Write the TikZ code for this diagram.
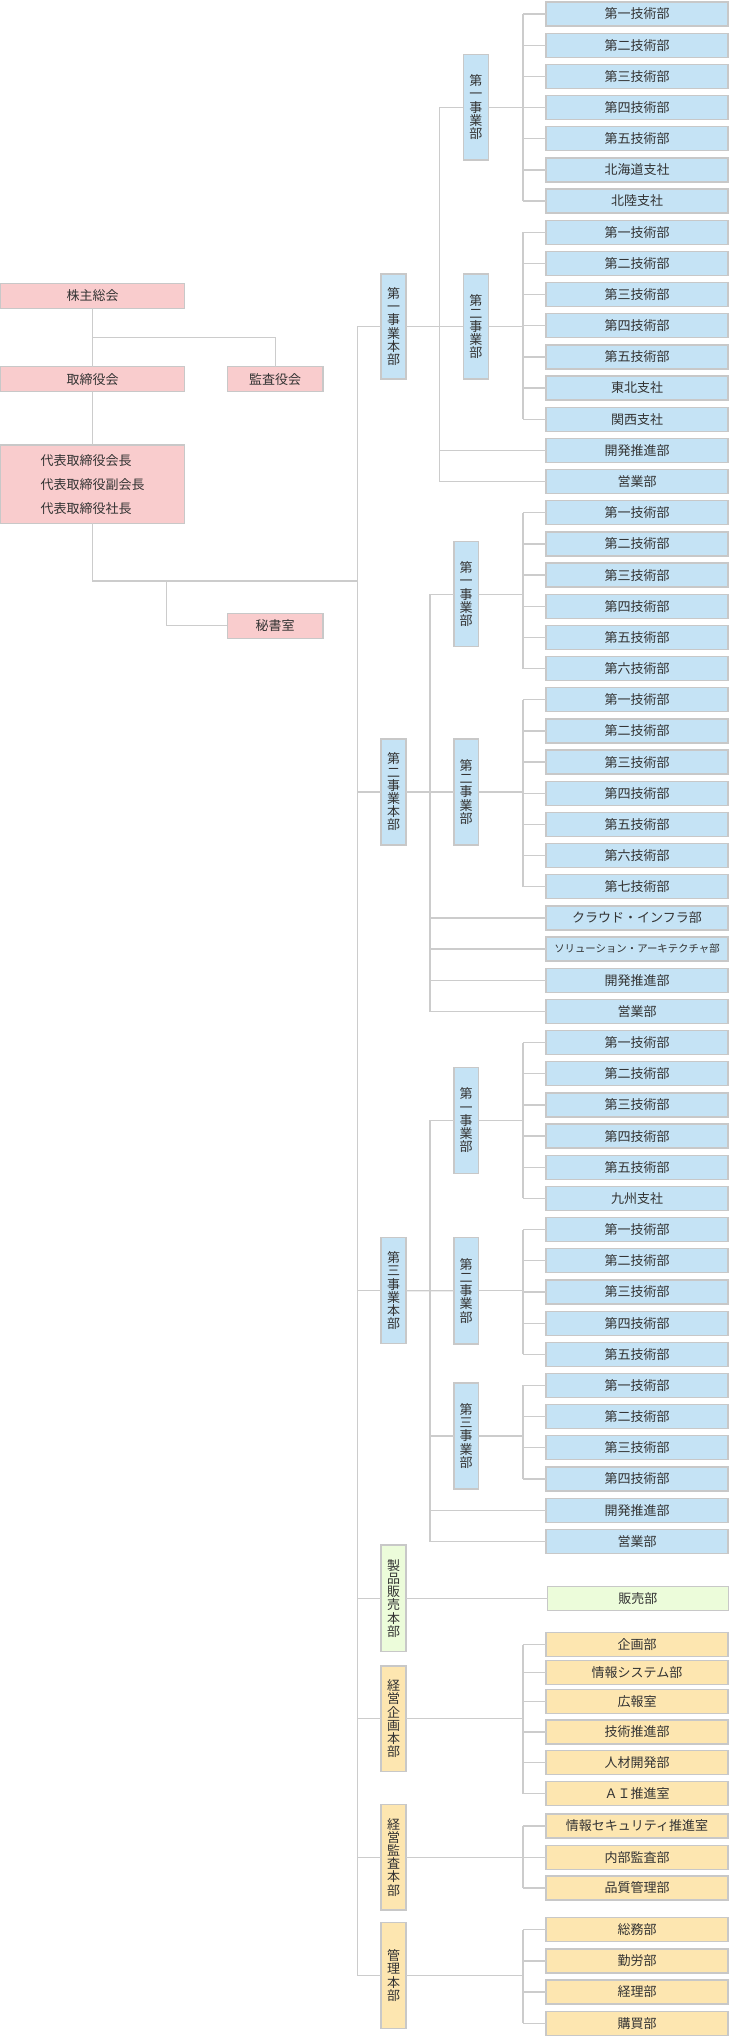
\documentclass[tikz,border=0pt]{standalone}
\usepackage{fontspec}
\setmainfont{Noto Sans CJK JP}
\definecolor{pinkf}{RGB}{249,204,205}
\definecolor{bluef}{RGB}{197,227,245}
\definecolor{greenf}{RGB}{236,252,218}
\definecolor{orangef}{RGB}{253,230,176}
\definecolor{bord}{RGB}{200,200,200}
\definecolor{linec}{RGB}{204,204,204}
\definecolor{txt}{RGB}{51,51,51}
\tikzset{
  box/.style={draw=bord, line width=1.3pt, inner sep=0pt, outer sep=0pt, text=txt,
    font=\fontsize{13}{13.2}\selectfont},
  leafbox/.style={box, fill=bluef, minimum width=182pt, minimum height=24pt, anchor=north west},
  orgbox/.style={leafbox, fill=orangef},
  vbox/.style={box, minimum width=25pt, align=center},
  pinkbox/.style={box, fill=pinkf, minimum height=25pt},
  conn/.style={draw=linec, line width=1.3pt},
}
\begin{document}
\begin{tikzpicture}[x=1pt,y=-1pt]
\useasboundingbox (0,0) rectangle (730,2042);
% ---------- left (board) ----------
\node[pinkbox, minimum width=184pt] (kabu) at (92.5,295.8) {株主総会};
\node[pinkbox, minimum width=184pt] (tori) at (92.5,379.2) {取締役会};
\node[pinkbox, minimum width=95.7pt] (kansa) at (275.2,379.2) {監査役会};
\node[pinkbox, minimum width=184pt, minimum height=78.3pt, align=left,
      font=\fontsize{13}{24}\selectfont] (daihyo) at (92.5,484.2)
      {代表取締役会長\\代表取締役副会長\\代表取締役社長};
\node[pinkbox, minimum width=95.7pt] (hisho) at (275.2,625.8) {秘書室};
\coordinate (kb) at (92.5,337.7);
\coordinate (hb) at (166.7,581);
\coordinate (mj) at (357.7,581);
\coordinate (M) at (357.7,0);
\coordinate (S1) at (439.3,0);
\coordinate (S2) at (430,0);
\coordinate (T) at (523,0);
\draw[conn] (kabu.south) -- (tori.north);
\draw[conn] (kansa.north) |- (kb);
\draw[conn] (tori.south) -- (daihyo.north);
\draw[conn] (daihyo.south) |- (mj);
\draw[conn] (hisho.west) -| (hb);
% ---------- headquarters boxes ----------
\node[vbox, fill=bluef, minimum height=105pt] (H1) at (393.5,326.5) {第\\一\\事\\業\\本\\部};
\node[vbox, fill=bluef, minimum height=106pt] (H2) at (393.5,791.9) {第\\二\\事\\業\\本\\部};
\node[vbox, fill=bluef, minimum height=106pt] (H3) at (393.5,1290.8) {第\\三\\事\\業\\本\\部};
\node[vbox, fill=greenf, minimum height=106.7pt] (H4) at (393.5,1598.3) {製\\品\\販\\売\\本\\部};
\node[vbox, fill=orangef, minimum height=105.7pt] (H5) at (393.5,1718.8) {経\\営\\企\\画\\本\\部};
\node[vbox, fill=orangef, minimum height=105.7pt] (H6) at (393.5,1857.2) {経\\営\\監\\査\\本\\部};
\node[vbox, fill=orangef, minimum height=105.6pt] (H7) at (393.5,1975.5) {管\\理\\本\\部};
\draw[conn] (H1.west) -| (H7.west -| M) -- (H7.west);
\foreach \h in {H2,H3,H4,H5,H6} { \draw[conn] (\h.west) -- (\h.west -| M); }
% ---------- divisions ----------
\node[vbox, fill=bluef, minimum height=105.7pt] (J11) at (475.8,107.2) {第\\一\\事\\業\\部};
\node[vbox, fill=bluef, minimum height=105pt] (J12) at (475.8,326.5) {第\\二\\事\\業\\部};
\node[vbox, fill=bluef, minimum width=24.3pt, minimum height=105pt] (J21) at (466.2,594.2) {第\\一\\事\\業\\部};
\node[vbox, fill=bluef, minimum width=24.3pt, minimum height=106pt] (J22) at (466.2,791.9) {第\\二\\事\\業\\部};
\node[vbox, fill=bluef, minimum width=24.3pt, minimum height=106pt] (J31) at (466.2,1120.3) {第\\一\\事\\業\\部};
\node[vbox, fill=bluef, minimum width=24.3pt, minimum height=106.7pt] (J32) at (466.2,1290.7) {第\\二\\事\\業\\部};
\node[vbox, fill=bluef, minimum width=24.3pt, minimum height=106pt] (J33) at (466.2,1436) {第\\三\\事\\業\\部};
% ---------- leaves ----------
\foreach \r/\t in {0/第一技術部,1/第二技術部,2/第三技術部,3/第四技術部,4/第五技術部,5/北海道支社,6/北陸支社,
  7/第一技術部,8/第二技術部,9/第三技術部,10/第四技術部,11/第五技術部,12/東北支社,13/関西支社,
  14/開発推進部,15/営業部,
  16/第一技術部,17/第二技術部,18/第三技術部,19/第四技術部,20/第五技術部,21/第六技術部,
  22/第一技術部,23/第二技術部,24/第三技術部,25/第四技術部,26/第五技術部,27/第六技術部,28/第七技術部,
  29/クラウド・インフラ部,31/開発推進部,32/営業部,
  33/第一技術部,34/第二技術部,35/第三技術部,36/第四技術部,37/第五技術部,38/九州支社,
  39/第一技術部,40/第二技術部,41/第三技術部,42/第四技術部,43/第五技術部,
  44/第一技術部,45/第二技術部,46/第三技術部,47/第四技術部,
  48/開発推進部,49/営業部}
  { \node[leafbox] (L\r) at (546,{2+31.17*\r}) {\t}; }
\node[leafbox, font=\fontsize{10.4}{12}\selectfont] (L30) at (546,{2+31.17*30}) {ソリューション・アーキテクチャ部};
% orange leaves
\node[leafbox, fill=greenf, minimum width=181pt] (G1) at (547.3,1586.7) {販売部};
\node[orgbox] (O1) at (546,1632.7) {企画部};
\node[orgbox] (O2) at (546,1660.7) {情報システム部};
\node[orgbox] (O3) at (546,1689.3) {広報室};
\node[orgbox] (O4) at (546,1720) {技術推進部};
\node[orgbox] (O5) at (546,1750.7) {人材開発部};
\node[orgbox] (O6) at (546,1781.7) {ＡＩ推進室};
\node[orgbox] (O7) at (546,1814) {情報セキュリティ推進室};
\node[orgbox] (O8) at (546,1845.3) {内部監査部};
\node[orgbox] (O9) at (546,1876) {品質管理部};
\node[orgbox] (O10) at (546,1917.7) {総務部};
\node[orgbox] (O11) at (546,1949) {勤労部};
\node[orgbox] (O12) at (546,1980) {経理部};
\node[orgbox] (O13) at (546,2011.3) {購買部};
% ---------- connectors: 第一事業本部 ----------
\draw[conn] (H1.east) -- (J12.west);
\draw[conn] (J11.west) -- (J11.west -| S1) |- (L15.west);
\draw[conn] (L14.west) -- (L14.west -| S1);
\draw[conn] (J11.east) -- (J11.east -| T);
\draw[conn] (L0.west -| T) -- (L6.west -| T);
\foreach \r in {0,...,6} { \draw[conn] (L\r.west) -- (L\r.west -| T); }
\draw[conn] (J12.east) -- (J12.east -| T);
\draw[conn] (L7.west -| T) -- (L13.west -| T);
\foreach \r in {7,...,13} { \draw[conn] (L\r.west) -- (L\r.west -| T); }
% ---------- 第二事業本部 ----------
\draw[conn] (H2.east) -- (J22.west);
\draw[conn] (J21.west) -- (J21.west -| S2) |- (L32.west);
\foreach \r in {29,30,31} { \draw[conn] (L\r.west) -- (L\r.west -| S2); }
\draw[conn] (J21.east) -- (J21.east -| T);
\draw[conn] (L16.west -| T) -- (L21.west -| T);
\foreach \r in {16,...,21} { \draw[conn] (L\r.west) -- (L\r.west -| T); }
\draw[conn] (J22.east) -- (J22.east -| T);
\draw[conn] (L22.west -| T) -- (L28.west -| T);
\foreach \r in {22,...,28} { \draw[conn] (L\r.west) -- (L\r.west -| T); }
% ---------- 第三事業本部 ----------
\draw[conn] (H3.east) -- (J32.west);
\draw[conn] (J31.west) -- (J31.west -| S2) |- (L49.west);
\draw[conn] (J33.west) -- (J33.west -| S2);
\draw[conn] (L48.west) -- (L48.west -| S2);
\draw[conn] (J31.east) -- (J31.east -| T);
\draw[conn] (L33.west -| T) -- (L38.west -| T);
\foreach \r in {33,...,38} { \draw[conn] (L\r.west) -- (L\r.west -| T); }
\draw[conn] (J32.east) -- (J32.east -| T);
\draw[conn] (L39.west -| T) -- (L43.west -| T);
\foreach \r in {39,...,43} { \draw[conn] (L\r.west) -- (L\r.west -| T); }
\draw[conn] (J33.east) -- (J33.east -| T);
\draw[conn] (L44.west -| T) -- (L47.west -| T);
\foreach \r in {44,...,47} { \draw[conn] (L\r.west) -- (L\r.west -| T); }
% ---------- staff headquarters ----------
\draw[conn] (H4.east) -- (H4.east -| G1.west) -- (G1.west);
\draw[conn] (H5.east) -- (H5.east -| T);
\draw[conn] (O1.west -| T) -- (O6.west -| T);
\foreach \r in {1,...,6} { \draw[conn] (O\r.west) -- (O\r.west -| T); }
\draw[conn] (H6.east) -- (H6.east -| T);
\draw[conn] (O7.west -| T) -- (O9.west -| T);
\foreach \r in {7,8,9} { \draw[conn] (O\r.west) -- (O\r.west -| T); }
\draw[conn] (H7.east) -- (H7.east -| T);
\draw[conn] (O10.west -| T) -- (O13.west -| T);
\foreach \r in {10,...,13} { \draw[conn] (O\r.west) -- (O\r.west -| T); }
\end{tikzpicture}
\end{document}
